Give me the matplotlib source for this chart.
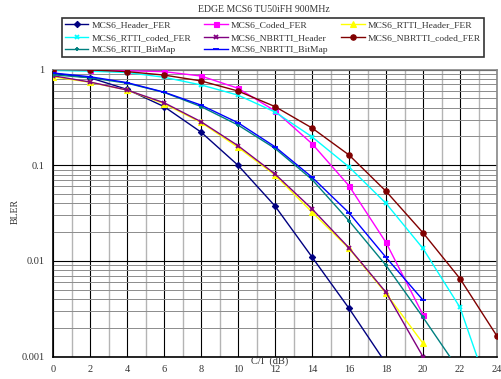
import matplotlib
matplotlib.use("Agg")
import matplotlib.pyplot as plt
import numpy as np
from matplotlib.ticker import FixedLocator, LogLocator, NullFormatter

plt.rcParams['font.family'] = ['Liberation Serif', 'DejaVu Serif']

title = "EDGE MCS6 TU50iFH 900MHz"
x_label = "C/I  (dB)"
y_label = "BLER"

# C/I values (dB)
ci_header = [0, 2, 4, 6, 8, 10, 12, 14, 16, 18]
header_fer = [0.91, 0.82, 0.62, 0.41, 0.222, 0.100, 0.0375, 0.0110, 0.0032, 0.00085]

ci_coded = [0, 2, 4, 6, 8, 10, 12, 14, 16, 18, 20]
coded_fer = [1.0, 0.99, 0.97, 0.95, 0.855, 0.637, 0.37, 0.168, 0.061, 0.0156, 0.00274]

ci_rtti_header = [0, 2, 4, 6, 8, 10, 12, 14, 16, 18, 20]
rtti_header_fer = [0.84, 0.735, 0.61, 0.44, 0.28, 0.154, 0.079, 0.0324, 0.0135, 0.00459, 0.00138]

ci_rtti_coded = [0, 2, 4, 6, 8, 10, 12, 14, 16, 18, 20, 22, 24]
rtti_coded_fer = [0.98, 0.96, 0.93, 0.83, 0.69, 0.54, 0.36, 0.198, 0.096, 0.040, 0.0135, 0.00327, 0.00025]

ci_nbrtti_header = [0, 2, 4, 6, 8, 10, 12, 14, 16, 18, 20]
nbrtti_header = [0.86, 0.74, 0.61, 0.45, 0.285, 0.16, 0.081, 0.035, 0.0137, 0.0047, 0.0010]

ci_nbrtti_coded = [0, 2, 4, 6, 8, 10, 12, 14, 16, 18, 20, 22, 24]
nbrtti_coded_fer = [1.0, 0.99, 0.95, 0.875, 0.76, 0.596, 0.41, 0.245, 0.128, 0.0535, 0.0197, 0.00654, 0.00164]

ci_rtti_bitmap = [0, 2, 4, 6, 8, 10, 12, 14, 16, 18, 20, 22]
rtti_bitmap = [0.88, 0.82, 0.72, 0.577, 0.41, 0.263, 0.15, 0.071, 0.0263, 0.0090, 0.00258, 0.0007]

ci_nbrtti_bitmap = [0, 2, 4, 6, 8, 10, 12, 14, 16, 18, 20]
nbrtti_bitmap = [0.92, 0.84, 0.73, 0.58, 0.425, 0.278, 0.156, 0.075, 0.0318, 0.0109, 0.0039]

x_ticks = [0, 2, 4, 6, 8, 10, 12, 14, 16, 18, 20, 22, 24]
y_ticks = [0.001, 0.01, 0.1, 1]
y_tick_labels = ["0.001", "0.01", "0.1", "1"]

W, H = 501, 379
fig = plt.figure(figsize=(W / 100, H / 100), dpi=100)
ax = fig.add_axes([53 / W, 1 - 356.7 / H, (497 - 53) / W, (356.7 - 69.5) / H])
ax.set_yscale('log')
ax.set_xlim(0, 24)
ax.set_ylim(0.001, 1)

# grid
ax.xaxis.set_major_locator(FixedLocator(x_ticks))
ax.xaxis.set_minor_locator(FixedLocator(list(range(1, 24, 2))))
ax.yaxis.set_major_locator(FixedLocator(y_ticks))
ax.yaxis.set_minor_locator(LogLocator(base=10, subs=np.arange(2, 10)))
ax.yaxis.set_minor_formatter(NullFormatter())
ax.set_yticklabels(y_tick_labels)
ax.grid(True, which='major', axis='x', color='black', lw=0.8, zorder=0)
ax.grid(True, which='minor', axis='x', color='#b4b4b4', lw=1.0, zorder=0)
ax.grid(True, which='major', axis='y', color='black', lw=0.8, zorder=0)
ax.grid(True, which='minor', axis='y', color='#8c8c8c', lw=0.7, zorder=0)
ax.tick_params(which='both', length=0, labelsize=7.5, colors='#333333')
ax.tick_params(axis='x', pad=6)
ax.tick_params(axis='y', pad=6)
for s in ['top', 'right']:
    ax.spines[s].set_color('#888888')
    ax.spines[s].set_linewidth(1.2)
for s in ['left', 'bottom']:
    ax.spines[s].set_color('black')
    ax.spines[s].set_linewidth(1.2)

series = [
    (ci_header, header_fer, 'MCS6_Header_FER', '#000080', 'D', 3.2),
    (ci_coded, coded_fer, 'MCS6_Coded_FER', '#FF00FF', 's', 3.6),
    (ci_rtti_header, rtti_header_fer, 'MCS6_RTTI_Header_FER', '#FFFF00', '^', 4.2),
    (ci_rtti_coded, rtti_coded_fer, 'MCS6_RTTI_coded_FER', '#00FFFF', 'x', 3.3),
    (ci_nbrtti_header, nbrtti_header, 'MCS6_NBRTTI_Header', '#800080', 'x', 3.3),
    (ci_nbrtti_coded, nbrtti_coded_fer, 'MCS6_NBRTTI_coded_FER', '#800000', 'o', 3.9),
    (ci_rtti_bitmap, rtti_bitmap, 'MCS6_RTTI_BitMap', '#008080', '+', 3.5),
    (ci_nbrtti_bitmap, nbrtti_bitmap, 'MCS6_NBRTTI_BitMap', '#0000FF', '_', 4),
]
handles = {}
for xs, ys, name, col, mk, ms in series:
    ln, = ax.plot(xs, ys, color=col, lw=1.0, marker=mk, ms=ms, mew=1.3 if mk in 'x+_' else 0.8,
                  mfc=col, mec=col, label=name, zorder=3, clip_on=True)
    handles[name] = ln

order = ['MCS6_Header_FER', 'MCS6_RTTI_coded_FER', 'MCS6_RTTI_BitMap',
         'MCS6_Coded_FER', 'MCS6_NBRTTI_Header', 'MCS6_NBRTTI_BitMap',
         'MCS6_RTTI_Header_FER', 'MCS6_NBRTTI_coded_FER']
leg = fig.legend([handles[n] for n in order], order, loc='lower left',
                 bbox_to_anchor=(62 / W, 1 - 57 / H, 422 / W, 38 / H), mode='expand',
                 ncol=3, borderaxespad=0, fontsize=6.8, frameon=True, fancybox=False,
                 handlelength=2.5, handletextpad=0.35, borderpad=0.3, labelspacing=0.38,
                 columnspacing=0.8)
leg.get_frame().set_edgecolor('black')
leg.get_frame().set_linewidth(1.2)
for t in leg.get_texts():
    t.set_color('#333333')

fig.text(264 / W, 1 - 10 / H, title, ha='center', va='center', fontsize=7, color='#333333')
fig.text(15 / W, 1 - 212 / H, y_label, ha='center', va='center', rotation=90, fontsize=7, color='#333333')
fig.text(270 / W, 1 - 361 / H, x_label, ha='center', va='center', fontsize=7.5, color='#333333',
         zorder=10)

fig.savefig('out.png', dpi=100)
